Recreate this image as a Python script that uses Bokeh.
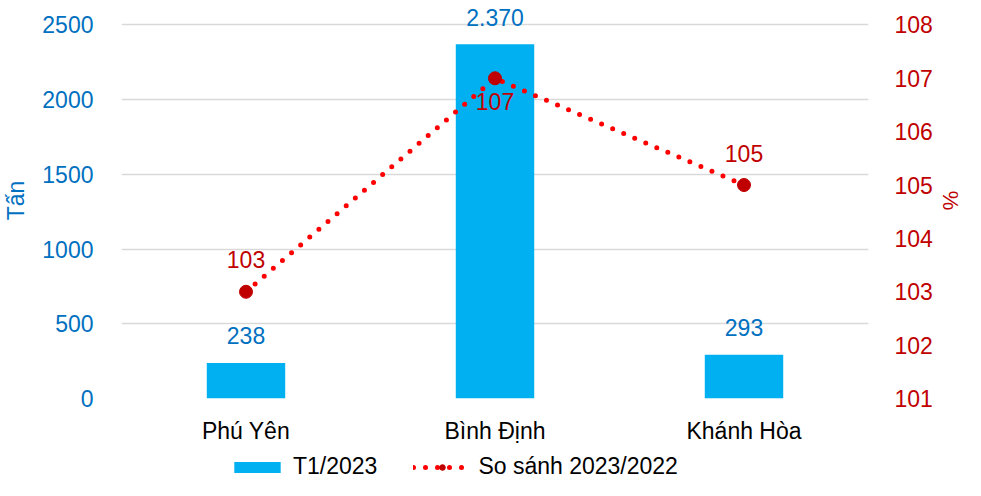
from bokeh.plotting import figure
from bokeh.layouts import column
from bokeh.models import (ColumnDataSource, Range1d, LinearAxis, FixedTicker,
                          Legend, LegendItem, FactorRange)
from bokeh.core.properties import value
from bokeh.embed import file_html
from bokeh.resources import INLINE

categories = ["Phú Yên", "Bình Định", "Khánh Hòa"]
tonnes = [238, 2370, 293]
tonne_labels = ["238", "2.370", "293"]
percent = [103, 107, 105]
percent_labels = ["103", "107", "105"]
left_ticks = [0, 500, 1000, 1500, 2000, 2500]
right_ticks = [101, 102, 103, 104, 105, 106, 107, 108]
series_names = ["T1/2023", "So sánh 2023/2022"]

FONT = "Liberation Sans"
BLUE = "#00B0F0"
DBLUE = "#0070C0"
RED = "#FF0000"
DRED = "#C00000"

# headroom above the top tick so the top value label is not clipped
HEAD = 1.06
left_lo, left_hi = left_ticks[0], left_ticks[-1]
right_lo, right_hi = right_ticks[0], right_ticks[-1]

src = ColumnDataSource(dict(cat=categories, t=tonnes, tl=tonne_labels,
                            pc=percent, pl=percent_labels,
                            poff=[-32, 23, -32]))

p = figure(x_range=FactorRange(*categories, range_padding=0),
           y_range=Range1d(left_lo, left_lo + (left_hi - left_lo) * HEAD),
           width=965, height=446, output_backend="svg", toolbar_location=None,
           min_border_left=119, min_border_right=88, min_border_top=2,
           min_border_bottom=42)
p.outline_line_color = None
p.extra_y_ranges = {"pct": Range1d(right_lo, right_lo + (right_hi - right_lo) * HEAD)}

bar_style = dict(color=BLUE, line_color=None)
line_style = dict(line_color=RED, line_width=5, line_dash="0 12", line_cap="round")
mark_style = dict(size=13, fill_color=DRED, line_color=DRED)

p.vbar(x="cat", top="t", width=0.315, source=src, **bar_style)
p.text(x="cat", y="t", text="tl", source=src, text_align="center",
       text_baseline="middle", y_offset=-27, text_color=DBLUE,
       text_font=value(FONT), text_font_size="23px")

p.line(x="cat", y="pc", source=src, y_range_name="pct", **line_style)
p.scatter(x="cat", y="pc", source=src, y_range_name="pct", **mark_style)
p.text(x="cat", y="pc", text="pl", source=src, y_range_name="pct",
       text_align="center", text_baseline="middle", y_offset="poff",
       text_color=DRED, text_font=value(FONT), text_font_size="23px")

ya = p.yaxis[0]
ya.ticker = FixedTicker(ticks=left_ticks)
ya.axis_label = "Tấn"
ya.axis_line_color = None
ya.major_tick_line_color = None
ya.minor_tick_line_color = None
ya.major_label_text_color = DBLUE
ya.major_label_text_font = FONT
ya.major_label_text_font_size = "23px"
ya.major_label_standoff = 22
ya.axis_label_standoff = 10
ya.axis_label_text_color = DBLUE
ya.axis_label_text_font = FONT
ya.axis_label_text_font_size = "23px"
ya.axis_label_text_font_style = "normal"

ra = LinearAxis(y_range_name="pct", ticker=FixedTicker(ticks=right_ticks),
                axis_label="%")
ra.axis_line_color = None
ra.major_tick_line_color = None
ra.minor_tick_line_color = None
ra.major_label_text_color = DRED
ra.major_label_text_font = FONT
ra.major_label_text_font_size = "23px"
ra.major_label_standoff = 20
ra.axis_label_standoff = 2
ra.axis_label_text_color = DRED
ra.axis_label_text_font = FONT
ra.axis_label_text_font_size = "22px"
ra.axis_label_text_font_style = "normal"
p.add_layout(ra, "right")

xa = p.xaxis[0]
xa.axis_line_color = None
xa.major_tick_line_color = None
xa.minor_tick_line_color = None
xa.major_label_text_color = "#000000"
xa.major_label_text_font = FONT
xa.major_label_text_font_size = "23px"
xa.major_label_standoff = 13

p.xgrid.grid_line_color = None
p.ygrid.grid_line_color = "#D9D9D9"
p.ygrid.grid_line_width = 1.5
p.ygrid.ticker = FixedTicker(ticks=left_ticks)

# legend strip below the chart: the same series drawn outside its view
lg = figure(width=965, height=34, output_backend="svg", toolbar_location=None,
            x_range=FactorRange(*categories), y_range=Range1d(90000, 90001),
            x_axis_type=None, y_axis_type=None, min_border=0)
lg.outline_line_color = None
lg.grid.visible = False
r_bar = lg.vbar(x="cat", top="t", width=0.315, source=src, **bar_style)
r_line = lg.line(x="cat", y="pc", source=src, **line_style)
r_mark = lg.scatter(x="cat", y="pc", source=src, **mark_style)
legend = Legend(items=[LegendItem(label=series_names[0], renderers=[r_bar]),
                       LegendItem(label=series_names[1], renderers=[r_line, r_mark])],
                orientation="horizontal", location=(107, 0),
                glyph_width=58, glyph_height=14, label_standoff=7, spacing=36,
                label_text_font=FONT, label_text_font_size="23px",
                label_text_color="#000000", border_line_color=None,
                background_fill_alpha=0, padding=0, margin=0)
lg.add_layout(legend, "center")

open("out.html", "w").write(file_html(column(p, lg, spacing=0), INLINE))
